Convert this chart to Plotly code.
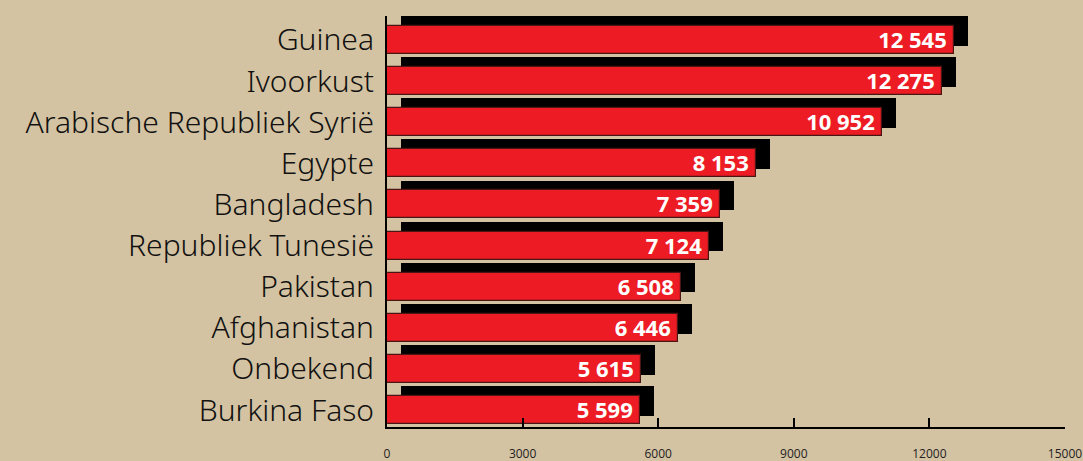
import plotly.graph_objects as go

countries = ["Guinea", "Ivoorkust", "Arabische Republiek Syrië", "Egypte", "Bangladesh",
             "Republiek Tunesië", "Pakistan", "Afghanistan", "Onbekend", "Burkina Faso"]
values = [12545, 12275, 10952, 8153, 7359, 7124, 6508, 6446, 5615, 5599]
x_ticks = [0, 3000, 6000, 9000, 12000, 15000]

BG = "#d4c3a2"
RED = "#ed1c24"

pos = list(range(len(countries)))
labels = [f"{v:,}".replace(",", " ") + "\u2009" for v in values]

# shadow: same bars shifted right and up
shadow_dx = 310
shadow_dy = 0.22

fig = go.Figure()
fig.add_trace(go.Bar(
    y=[p - shadow_dy for p in pos], x=values, base=shadow_dx, orientation="h",
    width=0.72, marker=dict(color="black", line=dict(width=0)),
    hoverinfo="skip", showlegend=False,
))
fig.add_trace(go.Bar(
    y=pos, x=values, orientation="h", width=0.68,
    marker=dict(color=RED, line=dict(color="#4a1512", width=1.2)),
    text=labels, textposition="inside", insidetextanchor="end", constraintext="none",
    textfont=dict(family="Open Sans", size=22, color="white", weight="bold"),
    showlegend=False,
))

fig.update_layout(
    width=1083, height=461,
    paper_bgcolor=BG, plot_bgcolor=BG,
    margin=dict(l=387, r=18, t=16, b=34),
    barmode="overlay",
    bargap=0,
)
fig.update_xaxes(
    range=[0, 15000], tickvals=x_ticks, ticktext=[str(t) for t in x_ticks],
    showgrid=False, zeroline=False, showline=True, linecolor="black", linewidth=2,
    ticks="inside", ticklen=9, tickwidth=2, tickcolor="black",
    ticklabelstandoff=15, automargin=False,
    tickfont=dict(family="Open Sans", size=12, color="#222"),
)
fig.update_yaxes(
    range=[9.41, -0.58], tickvals=pos, ticktext=countries,
    showgrid=False, zeroline=False, showline=True, linecolor="black", linewidth=2,
    ticks="", ticklabelstandoff=5, automargin=False,
    tickfont=dict(family="Noto Sans", size=30, color="#111", weight=300),
)

fig.write_html("out.html", config={"displayModeBar": False},
               post_script="document.body.style.margin='0';")
